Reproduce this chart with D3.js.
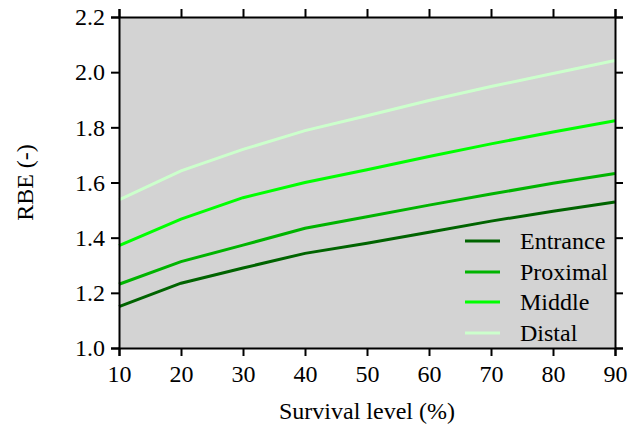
<!DOCTYPE html>
<html><head><meta charset="utf-8">
<script src="https://cdn.jsdelivr.net/npm/d3@7"></script>
</head><body style="margin:0">
<script>
const survival = [10, 20, 30, 40, 50, 60, 70, 80, 90];
const seriesNames = ["Entrance", "Proximal", "Middle", "Distal"];
const entrance = [1.15, 1.235, 1.29, 1.343, 1.38, 1.42, 1.46, 1.496, 1.529];
const proximal = [1.231, 1.313, 1.373, 1.434, 1.476, 1.518, 1.558, 1.597, 1.633];
const middle = [1.371, 1.467, 1.545, 1.60, 1.646, 1.694, 1.74, 1.783, 1.824];
const distal = [1.537, 1.642, 1.72, 1.788, 1.842, 1.897, 1.948, 1.995, 2.042];
const colors = ["#006400", "#00b400", "#00ff00", "#ccffcc"];
const xTicks = [10, 20, 30, 40, 50, 60, 70, 80, 90];
const yTicks = [1.0, 1.2, 1.4, 1.6, 1.8, 2.0, 2.2];

const W = 638, H = 426;
const L = 119, R = 615, T = 17, B = 348;
const FONT = "'Liberation Serif'";
const fs = "24px";
const svg = d3.select("body").append("svg").attr("width", W).attr("height", H).style("display", "block");
const x = d3.scaleLinear().domain([10, 90]).range([L, R]);
const y = d3.scaleLinear().domain([1.0, 2.2]).range([B, T]);

svg.append("rect").attr("x", L).attr("y", T).attr("width", R - L).attr("height", B - T).attr("fill", "#d3d3d3");

const data = [entrance, proximal, middle, distal];
const line = d3.line().x((d, i) => x(survival[i])).y(d => y(d));
data.forEach((s, k) => {
  svg.append("path").datum(s).attr("d", line).attr("fill", "none")
    .attr("stroke", colors[k]).attr("stroke-width", 3);
});

function txt(sel) { return sel.style("font-family", FONT).style("font-size", fs); }

const ax = svg.append("g").attr("transform", `translate(0,${B})`)
  .call(d3.axisBottom(x).tickValues(xTicks).tickSize(8).tickPadding(9).tickFormat(d3.format("d")));
const ay = svg.append("g").attr("transform", `translate(${L},0)`)
  .call(d3.axisLeft(y).tickValues(yTicks).tickSize(8).tickPadding(6).tickFormat(d3.format(".1f")));
const at = svg.append("g").attr("transform", `translate(0,${T})`)
  .call(d3.axisTop(x).tickValues(xTicks).tickSize(8).tickFormat(""));
const ar = svg.append("g").attr("transform", `translate(${R},0)`)
  .call(d3.axisRight(y).tickValues(yTicks).tickSize(8).tickFormat(""));
[ax, ay, at, ar].forEach(g => {
  txt(g);
  g.select(".domain").attr("stroke", "#000").attr("stroke-width", 2);
  g.selectAll(".tick line").attr("stroke", "#000").attr("stroke-width", 2);
  txt(g.selectAll("text")).attr("fill", "#000");
});

txt(svg.append("text").attr("x", (L + R) / 2).attr("y", 419).attr("text-anchor", "middle")).text("Survival level (%)");
txt(svg.append("text").attr("transform", `translate(33,${(T + B) / 2}) rotate(-90)`).attr("text-anchor", "middle")).text("RBE (-)");

const legY = [241, 272, 302, 333];
seriesNames.forEach((n, k) => {
  svg.append("line").attr("x1", 465).attr("x2", 500).attr("y1", legY[k]).attr("y2", legY[k])
    .attr("stroke", colors[k]).attr("stroke-width", 3);
  txt(svg.append("text").attr("x", 520).attr("y", legY[k] + 8)).text(n);
});
</script>
</body></html>
